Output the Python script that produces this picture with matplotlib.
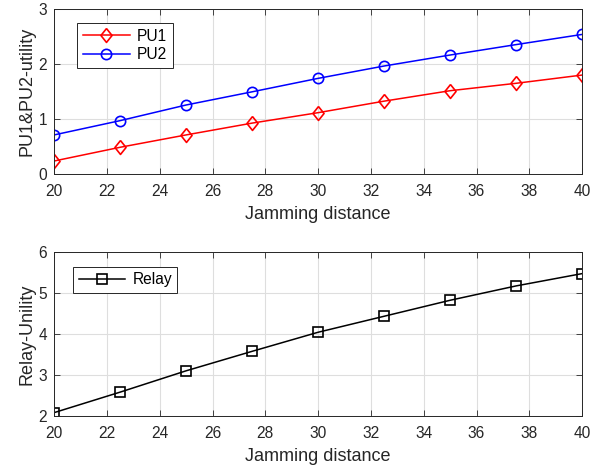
import matplotlib
matplotlib.use("Agg")
import matplotlib.pyplot as plt

plt.rcParams['font.family'] = ['Liberation Sans', 'DejaVu Sans']

distance = [20, 22.5, 25, 27.5, 30, 32.5, 35, 37.5, 40]
pu1_utility = [0.24, 0.49, 0.715, 0.93, 1.12, 1.33, 1.52, 1.655, 1.805]
pu2_utility = [0.715, 0.975, 1.26, 1.50, 1.745, 1.97, 2.17, 2.36, 2.545]
relay_utility = [2.09, 2.59, 3.11, 3.585, 4.05, 4.44, 4.83, 5.18, 5.48]

xticks = [20, 22, 24, 26, 28, 30, 32, 34, 36, 38, 40]
axis_gray = (0.15, 0.15, 0.15)

# diamond a little taller than it is wide
diamond = [(0, 1), (0.8, 0), (0, -1), (-0.8, 0), (0, 1)]

fig = plt.figure(figsize=(6.02, 4.72), dpi=100)
ax1 = fig.add_axes([0.090, 0.631, 0.877, 0.349])
ax2 = fig.add_axes([0.090, 0.118, 0.877, 0.3475])


def style(ax, ylim, yticks, ylabel):
    ax.set_xlim(20, 40)
    ax.set_ylim(*ylim)
    ax.set_xticks(xticks)
    ax.set_yticks(yticks)
    ax.grid(True, color=(0.87, 0.87, 0.87), linewidth=0.8)
    ax.set_axisbelow(True)
    ax.tick_params(direction='in', top=True, right=True, length=4,
                   width=0.6, colors=axis_gray, labelsize=11.2)
    ax.tick_params(axis='x', pad=7)
    ax.tick_params(axis='y', pad=5)
    for s in ax.spines.values():
        s.set_color(axis_gray)
        s.set_linewidth(0.7)
    ax.set_xlabel('Jamming distance', fontsize=13, color=axis_gray, labelpad=5)
    ax.set_ylabel(ylabel, fontsize=13, color=axis_gray, labelpad=2)


ax1.plot(distance, pu1_utility, color='red', marker=diamond, markersize=10,
         markerfacecolor='none', markeredgewidth=1.2, linewidth=1.1, label='PU1')
ax1.plot(distance, pu2_utility, color='blue', marker='o', markersize=7.4,
         markerfacecolor='none', markeredgewidth=1.2, linewidth=1.1, label='PU2')
style(ax1, (0, 3), [0, 1, 2, 3], 'PU1&PU2-utility')
leg1 = ax1.legend(loc='upper left', bbox_to_anchor=(0.043, 0.92), fancybox=False,
                  edgecolor=axis_gray, framealpha=1, fontsize=11.2,
                  handlelength=3.0, borderpad=0.4, labelspacing=0.2,
                  handletextpad=0.45, borderaxespad=0)
leg1.get_frame().set_linewidth(0.7)

ax2.plot(distance, relay_utility, color='black', marker='s', markersize=6.7,
         markerfacecolor='none', markeredgewidth=1.2, linewidth=1.1, label='Relay')
style(ax2, (2, 6), [2, 3, 4, 5, 6], 'Relay-Unility')
leg2 = ax2.legend(loc='upper left', bbox_to_anchor=(0.036, 0.91), fancybox=False,
                  edgecolor=axis_gray, framealpha=1, fontsize=11.2,
                  handlelength=3.0, borderpad=0.35, handletextpad=0.45,
                  borderaxespad=0)
leg2.get_frame().set_linewidth(0.7)

fig.savefig('out.png', dpi=100)
